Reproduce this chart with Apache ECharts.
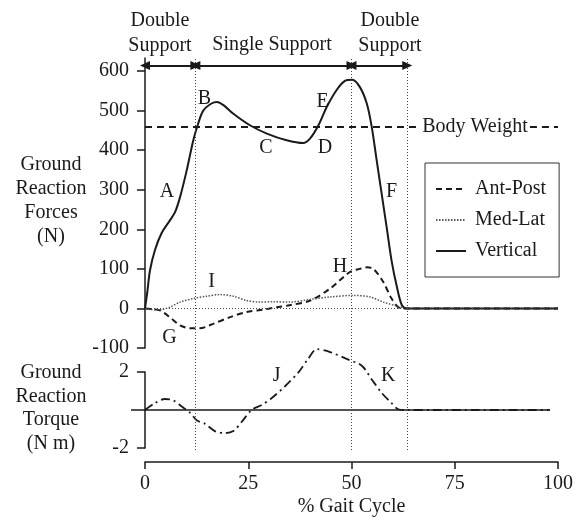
<!DOCTYPE html>
<html>
<head>
<meta charset="utf-8">
<script src="https://cdn.jsdelivr.net/npm/echarts@6/dist/echarts.min.js"></script>
<style>html,body{margin:0;padding:0;background:#fff}#c{width:588px;height:519px}</style>
</head>
<body>
<div id="c"></div>
<script>
// ---- data ----
const vertX = [0,0.6,1.2,2.4,4.0,6.0,7.3,8.5,10.1,11.7,12.9,14.1,16.1,17.4,19,21.4,25.4,29.5,34.3,38.3,40,42,44,46.4,48.4,50.2,52,53.7,54.9,56.1,57.3,58.5,59.7,61,62.2,63.4,70,80,90,100];
const vertY = [0,45,96,147,190,222,244,282,349,425,468,500,518,522,514,492,463,442,425,418,430,463,509,552,575,578,560,518,459,374,290,206,121,54,8,0,0,0,0,0];
const apX = [0,3.6,6,8.5,10.9,13.3,16.5,20.6,24.6,28.6,31.9,35,40,44.8,49.6,52,53.7,55.3,57.7,59.7,61.7,63.4,70,80,90,100];
const apY = [0,-5,-22,-43,-50,-50,-39,-22,-9,-3,3,8,20,50,92,100,104,100,67,25,1,0,0,0,0,0];
const mlX = [0,2.4,4,6,8.5,11.7,15,18.2,21.4,24.6,27.8,31,35,40,44.8,50.4,54.5,57.7,61,62.5,63.4,70,80,90,100];
const mlY = [0,-4,-3,3,16,25,31,35,31,20,16,17,16,23,29,33,29,16,6,1,0,0,0,0,0];
const tqX = [0,2.4,4.8,6.9,8.9,10.9,12.5,14.5,16.9,19.4,21.4,23.4,25.8,28.3,30.7,33.9,37.1,39.5,41.6,44.8,48.8,52.5,54.9,57.3,59.7,61.3,63,70,80,90,98];
const tqY = [0,0.36,0.58,0.5,0.18,-0.14,-0.54,-0.72,-1.11,-1.22,-1.11,-0.63,0,0.27,0.63,1.25,1.97,2.69,3.2,3.05,2.69,2.33,1.61,0.9,0.36,0.04,0,0,0,0,0];
const seriesNames = ['Ant-Post','Med-Lat','Vertical'];
const forceTicks = [-100,0,100,200,300,400,500,600];
const torqueTicks = [-2,2];
const xTicks = [0,25,50,75,100];
const bodyWeight = 460;
const bodyWeightGap = [66.6, 93.2];     // % span where the "Body Weight" text sits
const bodyWeightLabelX = 79.9;
const phaseBounds = [0,12.2,50,63.5];
const phaseArrowLevel = 614;
const forceLetters = ['A','B','C','D','E','F','G','H','I'];
const forceLetterX = [5.3,14.4,29.3,43.6,43.0,59.7,5.9,47.2,16.1];
const forceLetterY = [296,530,407,407,522,294,-73,105,67];
const torqueLetters = ['J','K'];
const torqueLetterX = [31.9,58.9];
const torqueLetterY = [1.79,1.79];

const zip = (xs, ys) => xs.map((x, i) => [x, ys[i]]);
const FONT = 'Liberation Serif';
const INK = '#1a1a1a';

const chart = echarts.init(document.getElementById('c'), null, {renderer: 'canvas'});

const arrows = [];
for (let i = 0; i < phaseBounds.length - 1; i++) {
  arrows.push([{coord: [phaseBounds[i], phaseArrowLevel]}, {coord: [phaseBounds[i + 1], phaseArrowLevel]}]);
}
const bwStyle = {color: INK, width: 2, type: [7, 5]};
const letterLabel = {show: true, position: 'inside', formatter: '{b}', fontSize: 20, fontFamily: FONT,
  color: INK, textBorderWidth: 0, textShadowBlur: 0, opacity: 1};
const letterItem = {color: INK, opacity: 1};

const option = {
  backgroundColor: '#fff',
  animation: false,
  textStyle: {fontFamily: FONT, color: INK},
  grid: [
    {left: 145, right: 30, top: 58, height: 290, outerBoundsMode: 'none', containLabel: false},
    {left: 145, right: 30, top: 372, height: 76, outerBoundsMode: 'none', containLabel: false},
    {left: 145, right: 30, top: 58, height: 392, outerBoundsMode: 'none', containLabel: false}
  ],
  xAxis: [
    {gridIndex: 0, type: 'value', min: 0, max: 100, show: false},
    {gridIndex: 1, type: 'value', min: 0, max: 100, interval: 25, position: 'bottom', offset: 14,
      axisLine: {show: true, onZero: false, lineStyle: {color: INK, width: 1.5}},
      axisTick: {show: true, length: 7, lineStyle: {color: INK, width: 1.5}, customValues: xTicks},
      axisLabel: {fontSize: 20, fontFamily: FONT, color: INK, margin: 12, customValues: xTicks},
      splitLine: {show: false},
      name: '% Gait Cycle', nameLocation: 'middle', nameGap: 35,
      nameTextStyle: {fontSize: 20, fontFamily: FONT, color: INK}},
    {gridIndex: 2, type: 'value', min: 0, max: 100, show: false}
  ],
  yAxis: [
    {gridIndex: 0, type: 'value', min: -100, max: 633,
      axisLine: {show: true, lineStyle: {color: INK, width: 1.5}},
      axisTick: {show: true, length: 8, lineStyle: {color: INK, width: 1.5}, customValues: forceTicks},
      axisLabel: {fontSize: 20, fontFamily: FONT, color: INK, margin: 16, customValues: forceTicks},
      splitLine: {show: false}},
    {gridIndex: 1, type: 'value', min: -2, max: 2,
      axisLine: {show: true, lineStyle: {color: INK, width: 1.5}},
      axisTick: {show: true, length: 8, lineStyle: {color: INK, width: 1.5}, customValues: torqueTicks},
      axisLabel: {fontSize: 20, fontFamily: FONT, color: INK, margin: 16, customValues: torqueTicks},
      splitLine: {show: false}},
    {gridIndex: 1, type: 'value', min: -2, max: 2, position: 'left', offset: 0,
      axisLine: {show: false},
      axisTick: {show: true, length: 14, lineStyle: {color: INK, width: 1.5}, customValues: [0]},
      axisLabel: {show: false},
      splitLine: {show: false}},
    {gridIndex: 2, type: 'value', min: -359, max: 633, show: false}
  ],
  legend: {
    data: seriesNames,
    orient: 'vertical',
    left: 425, top: 163,
    padding: [16, 13, 16, 10],
    itemWidth: 30, itemHeight: 14, itemGap: 11,
    borderColor: '#333', borderWidth: 1,
    backgroundColor: '#fff',
    itemStyle: {opacity: 0},
    textStyle: {fontSize: 20, fontFamily: FONT, color: INK, padding: [0, 0, 0, 4]},
    selectedMode: false
  },
  graphic: [
    {type: 'text', x: 160, y: 33, style: {text: 'Double\nSupport', font: '20px "Liberation Serif"', fill: INK, textAlign: 'center', textVerticalAlign: 'middle', lineHeight: 25}},
    {type: 'text', x: 272, y: 45, style: {text: 'Single Support', font: '20px "Liberation Serif"', fill: INK, textAlign: 'center', textVerticalAlign: 'middle'}},
    {type: 'text', x: 390, y: 33, style: {text: 'Double\nSupport', font: '20px "Liberation Serif"', fill: INK, textAlign: 'center', textVerticalAlign: 'middle', lineHeight: 25}},
    {type: 'text', x: 51, y: 201, style: {text: 'Ground\nReaction\nForces\n(N)', font: '20px "Liberation Serif"', fill: INK, textAlign: 'center', textVerticalAlign: 'middle', lineHeight: 24}},
    {type: 'text', x: 51, y: 408, style: {text: 'Ground\nReaction\nTorque\n(N m)', font: '20px "Liberation Serif"', fill: INK, textAlign: 'center', textVerticalAlign: 'middle', lineHeight: 23.5}}
  ],
  series: [
    {name: 'Ant-Post', type: 'line', xAxisIndex: 0, yAxisIndex: 0, data: zip(apX, apY),
      showSymbol: false, symbol: 'none', smooth: 0.3, z: 3,
      lineStyle: {color: INK, width: 2, type: [6, 4]}, itemStyle: {color: INK}},
    {name: 'Med-Lat', type: 'line', xAxisIndex: 0, yAxisIndex: 0, data: zip(mlX, mlY),
      showSymbol: false, symbol: 'none', smooth: 0.3, z: 3,
      lineStyle: {color: '#555', width: 1.5, type: [1.5, 1.5]}, itemStyle: {color: '#555'}},
    {name: 'Vertical', type: 'line', xAxisIndex: 0, yAxisIndex: 0, data: zip(vertX, vertY),
      showSymbol: false, symbol: 'none', smooth: 0.3, z: 4,
      lineStyle: {color: INK, width: 2}, itemStyle: {color: INK},
      markLine: {silent: true, symbol: 'none', label: {show: false}, animation: false,
        data: [
          [{coord: [0, bodyWeight], lineStyle: bwStyle}, {coord: [bodyWeightGap[0], bodyWeight]}],
          [{coord: [bodyWeightGap[1], bodyWeight], lineStyle: bwStyle}, {coord: [100, bodyWeight]}],
          [{coord: [0, 0], lineStyle: {color: '#444', width: 1, type: [1, 2]}}, {coord: [100, 0]}]
        ]}},
    {name: 'Torque', type: 'line', xAxisIndex: 1, yAxisIndex: 1, data: zip(tqX, tqY),
      showSymbol: false, symbol: 'none', smooth: 0.3, clip: false, z: 4,
      lineStyle: {color: INK, width: 1.8, type: [9, 4, 2, 4]},
      markLine: {silent: true, symbol: 'none', label: {show: false},
        data: [[{coord: [0, 0], lineStyle: {color: INK, width: 1.5, type: 'solid'}}, {coord: [98, 0]}]]}},
    {name: 'forceLetters', type: 'scatter', xAxisIndex: 0, yAxisIndex: 0, symbolSize: 0, z: 6,
      itemStyle: letterItem,
      data: forceLetters.map((n, i) => ({name: n, value: [forceLetterX[i], forceLetterY[i]]})),
      label: letterLabel},
    {name: 'bodyWeightLabel', type: 'scatter', xAxisIndex: 0, yAxisIndex: 0, symbolSize: 0, z: 6,
      itemStyle: letterItem,
      data: [{name: 'Body Weight', value: [bodyWeightLabelX, bodyWeight]}],
      label: letterLabel},
    {name: 'torqueLetters', type: 'scatter', xAxisIndex: 1, yAxisIndex: 1, symbolSize: 0, z: 6, clip: false,
      itemStyle: letterItem,
      data: torqueLetters.map((n, i) => ({name: n, value: [torqueLetterX[i], torqueLetterY[i]]})),
      label: letterLabel},
    {name: 'phaseLines', type: 'line', xAxisIndex: 2, yAxisIndex: 3, data: [], z: 2,
      markLine: {silent: true, symbol: 'none', label: {show: false},
        lineStyle: {color: '#444', width: 1, type: [1, 2]},
        data: phaseBounds.slice(1).map(v => ({xAxis: v}))}},
    {name: 'phaseArrows', type: 'line', xAxisIndex: 2, yAxisIndex: 3, data: [], z: 5,
      markLine: {silent: true, symbol: ['triangle', 'triangle'], symbolSize: [9, 10], label: {show: false},
        lineStyle: {color: INK, width: 1.8, type: 'solid'},
        data: arrows}}
  ]
};
chart.setOption(option);
</script>
</body>
</html>
